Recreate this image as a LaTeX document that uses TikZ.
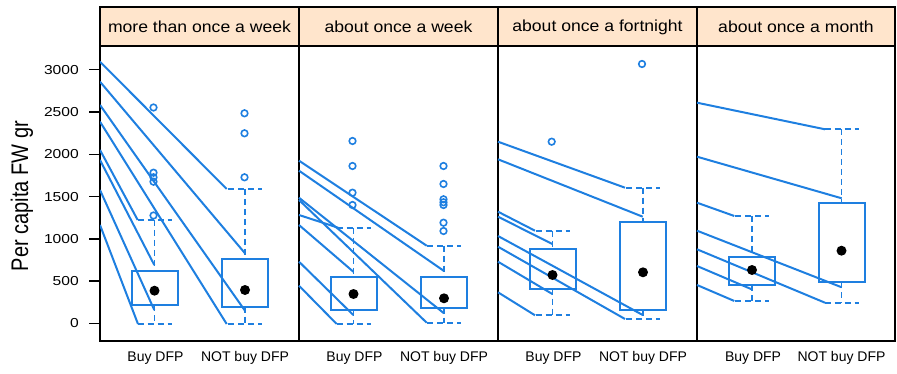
\documentclass[tikz,border=0pt]{standalone}
\usepackage{fontspec}
\setmainfont{Liberation Sans}
\usetikzlibrary{positioning}
\definecolor{bwblue}{HTML}{1E7FE0}
\definecolor{strip}{HTML}{FFE5CC}

\begin{document}
\begin{tikzpicture}[x=1pt,y=-1pt,
    seg/.style={bwblue,line width=2pt},
    bx/.style={bwblue,line width=2pt},
    whisk/.style={bwblue,line width=1.8pt,dash pattern=on 6pt off 4pt},
    outl/.style={bwblue,line width=1.6pt},
    frame/.style={black,line width=2pt},
    strip lab/.style={font=\fontsize{16}{18}\selectfont,xscale=1.1},
    tick lab/.style={font=\fontsize{13}{15}\selectfont,xscale=1.2,anchor=east},
    grp lab/.style={font=\fontsize{14}{16}\selectfont}]
  \useasboundingbox (0,0) rectangle (897,374);

  % panels and strips
  \fill[strip] (100,7) rectangle (895,45.7);
  \draw[frame] (100,7) rectangle (895,340.7);
  \draw[frame] (100,45.7) -- (895,45.7);
  \foreach \sx in {299,498,697}
    \draw[frame] (\sx,7) -- (\sx,340.7);

  \node[strip lab] (s1) at (199.5,27) {more than once a week};
  \node[strip lab] (s2) at (398.5,27) {about once a week};
  \node[strip lab] (s3) at (597.5,27) {about once a fortnight};
  \node[strip lab] (s4) at (796,27) {about once a month};

  % y axis
  \foreach \v/\yy in {0/323.5,500/281.2,1000/239,1500/196.7,2000/154.3,2500/112,3000/69.7}{
    \draw[line width=1.5pt] (89,\yy) -- (100,\yy);
    \node[tick lab] (t\v) at (83,\yy) {\v};
  }
  \node[font=\fontsize{20}{22}\selectfont,rotate=90] (ylab) at (22,196)
    {\scalebox{1}[1.2]{Per capita FW gr}};

  % group labels
  \foreach \gx [count=\i] in {155.5,354.5,553.5,753}
    \node[grp lab] (buy\i) at (\gx,358) {Buy DFP};
  \foreach \gx [count=\i] in {245,444,643,841.5}
    \node[grp lab] (not\i) at (\gx,358) {NOT buy DFP};

  % slope lines
  \begin{scope}
    \clip (100,45.7) rectangle (895,340.7);
    \foreach \xa/\ya/\xb/\yb in {
      100/61.7/226.7/189, 100/81.7/245/253.3, 100/105/245/310.7, 100/121.7/226.7/324,
      100/150/137.7/220, 100/160/154.3/265, 100/190/154.3/310, 100/225/138/324,
      299/160.7/426.7/245.7, 299/170.7/444/271, 299/197.7/444/313.3, 299/200/426.7/322.7,
      299/215/338/227.7, 299/225/353.3/271.7, 299/261.7/353.3/315, 299/285.7/336.7/324,
      498/141.7/625/187.7, 498/159.3/642.7/216.7, 498/211.7/535/230.7, 498/216.7/552.3/244,
      498/236/642.7/315, 498/246.7/625/319, 498/261.7/552.3/294, 498/292.3/535/315.3,
      697/102.7/825/129.3, 697/156.7/841.7/198.3, 697/202.7/734.3/216, 697/230.7/841.7/287.3,
      697/249.3/825/302.7, 697/266/751.7/289.3, 697/285/734.3/301}
      \draw[seg] (\xa,\ya) -- (\xb,\yb);
  \end{scope}

  % boxes: centre / cap top / box top / box bottom / cap bottom / median
  \foreach \cx/\ct/\bt/\bb/\cb/\md in {
      154.5/220/270.7/305/324/290.7, 245/189/259.3/306.7/324/290,
      353.5/227.7/277.3/310/324/294, 444/245.7/277.3/307.7/323.3/298.3,
      552.5/230.7/249.3/288.7/315.3/275, 643/187.7/222.3/310/319/272.3,
      752/216/256.7/285/301/270, 841.5/129.3/203.3/282.3/302.7/250.7}{
    \draw[bx] (\cx-23,\bt) rectangle (\cx+23,\bb);
    \draw[whisk] (\cx-17,\ct) -- (\cx+17,\ct) (\cx,\ct) -- (\cx,\bt);
    \draw[whisk] (\cx-17,\cb) -- (\cx+17,\cb) (\cx,\bb) -- (\cx,\cb);
    \fill (\cx,\md) circle (5pt);
  }

  % outliers
  \foreach \ox/\oy in {
      153.5/107.5, 153.5/172.7, 153.5/177.3, 153.5/181.7, 153.5/215.5,
      244.5/113.3, 244.5/133.3, 244.5/177.3,
      352.5/141, 352.5/166, 352.5/192.7, 352.5/205,
      443.5/166, 443.5/184, 443.5/199.3, 443.5/202.3, 443.5/205, 443.5/222.7, 443.5/231,
      551.7/141.7, 642/64}
    \draw[outl] (\ox,\oy) circle (3.3pt);
\end{tikzpicture}
\end{document}
